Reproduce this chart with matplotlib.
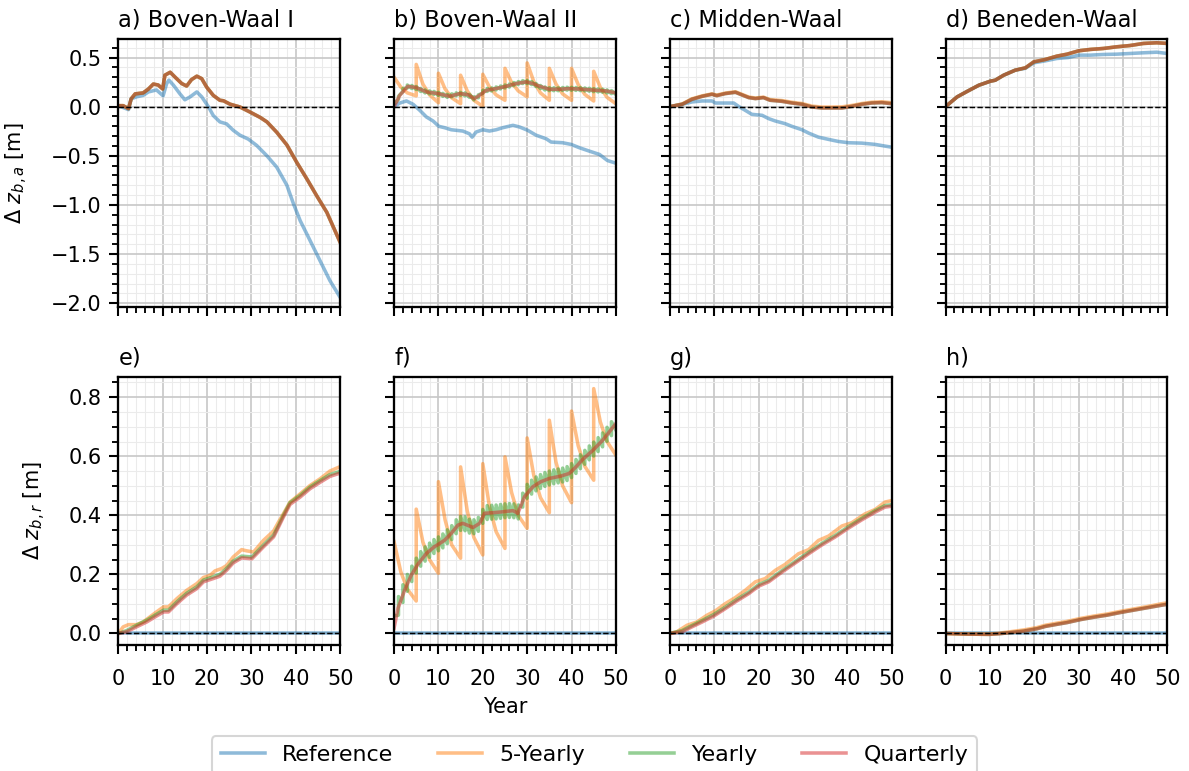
import matplotlib.pyplot as plt
from matplotlib.ticker import MultipleLocator
from matplotlib.lines import Line2D

# ---- data (year, dz) ----
# a) Boven-Waal I
a_ref = [(0, 0.01), (2.3, -0.03), (2.9, 0.08), (4.1, 0.10), (5.6, 0.115), (6.8, 0.15), (8.6, 0.17),
         (10.1, 0.11), (10.9, 0.235), (11.4, 0.27), (12.4, 0.22), (13.9, 0.13), (15.0, 0.07), (16.2, 0.10),
         (17.7, 0.15), (18.8, 0.10), (20.3, 0.0), (21.4, -0.09), (22.9, -0.155), (24.4, -0.175),
         (25.9, -0.24), (27.4, -0.29), (29.3, -0.33), (31.2, -0.395), (33.5, -0.50), (35.7, -0.615),
         (38.0, -0.80), (39.5, -0.99), (41.0, -1.16), (43.2, -1.36), (45.5, -1.57), (47.7, -1.77), (50, -1.94)]
a_mod = [(0, 0.01), (1.1, 0.01), (2.3, -0.02), (2.9, 0.08), (3.8, 0.13), (5.6, 0.14), (6.8, 0.18),
         (7.9, 0.23), (9.0, 0.22), (10.0, 0.18), (10.5, 0.32), (11.7, 0.35), (12.8, 0.30), (14.3, 0.235),
         (15.4, 0.21), (16.5, 0.275), (17.7, 0.31), (18.8, 0.285), (19.9, 0.20), (21.4, 0.115),
         (22.9, 0.065), (23.7, 0.06), (25.2, 0.025), (27.4, -0.003), (29.7, -0.055), (32.0, -0.11),
         (33.5, -0.155), (35.7, -0.26), (38.0, -0.39), (40.2, -0.565), (42.5, -0.735), (44.7, -0.905),
         (47.0, -1.075), (50, -1.38)]

# b) Boven-Waal II
b_ref = [(0, 0), (1.3, 0.037), (2.8, 0.058), (4.3, 0.024), (5.8, -0.037), (7.3, -0.105), (8.8, -0.146),
         (10.1, -0.20), (11.4, -0.214), (12.9, -0.235), (15.5, -0.248), (17.0, -0.276), (17.6, -0.31),
         (18.5, -0.258), (20.0, -0.235), (21.5, -0.248), (23.0, -0.235), (24.5, -0.214), (26.8, -0.19),
         (28.3, -0.207), (30.1, -0.24), (32.0, -0.29), (34.3, -0.327), (35.4, -0.36), (38.0, -0.367),
         (39.9, -0.384), (41.8, -0.418), (44.0, -0.452), (46.3, -0.486), (48.1, -0.548), (50, -0.575)]
b_5y = [(0, 0.30), (1.5, 0.20), (3, 0.14), (5, 0.11), (5, 0.43), (6.5, 0.23), (8, 0.12), (10, 0.04),
        (10, 0.34), (11.5, 0.18), (13, 0.09), (15, 0.03), (15, 0.32), (16.5, 0.16), (18, 0.065), (20, 0.003),
        (20, 0.33), (21.5, 0.20), (23, 0.12), (25, 0.065), (25, 0.39), (26.5, 0.245), (28, 0.16), (30, 0.10),
        (30, 0.445), (31.5, 0.255), (33, 0.14), (35, 0.065), (35, 0.39), (36.5, 0.23), (38, 0.13), (40, 0.065),
        (40, 0.39), (41.5, 0.225), (43, 0.125), (45, 0.058), (45, 0.36), (46.5, 0.195), (48, 0.095), (50, 0.03)]
b_yr_hi = [0.03, 0.105, 0.185, 0.22, 0.215, 0.205, 0.185, 0.17, 0.16, 0.155, 0.145, 0.135, 0.125, 0.13,
           0.14, 0.145, 0.14, 0.125, 0.10, 0.12, 0.165, 0.185, 0.19, 0.20, 0.21, 0.22, 0.23, 0.245, 0.255,
           0.265, 0.265, 0.255, 0.235, 0.215, 0.20, 0.193, 0.192, 0.192, 0.195, 0.198, 0.197, 0.195, 0.193,
           0.19, 0.187, 0.183, 0.18, 0.177, 0.17, 0.163]
b_yr_lo = [0.075, 0.155, 0.19, 0.185, 0.175, 0.155, 0.14, 0.13, 0.125, 0.115, 0.105, 0.095, 0.10, 0.11,
           0.115, 0.11, 0.095, 0.07, 0.09, 0.135, 0.155, 0.16, 0.17, 0.18, 0.19, 0.20, 0.215, 0.225, 0.235,
           0.235, 0.225, 0.205, 0.185, 0.17, 0.163, 0.162, 0.162, 0.165, 0.168, 0.167, 0.165, 0.163, 0.16,
           0.157, 0.153, 0.15, 0.147, 0.14, 0.133, 0.125]
b_q = [(0, 0), (1.3, 0.116), (3.1, 0.207), (5.0, 0.194), (7.3, 0.15), (9.9, 0.133), (12.5, 0.105),
       (14.8, 0.133), (16.6, 0.122), (18.1, 0.082), (19.3, 0.116), (20.8, 0.167), (23.0, 0.184),
       (25.3, 0.207), (27.5, 0.235), (29.8, 0.252), (31.3, 0.235), (32.8, 0.207), (35.0, 0.177),
       (37.3, 0.177), (39.5, 0.184), (42.5, 0.177), (45.5, 0.167), (47.8, 0.16), (50, 0.14)]

# c) Midden-Waal
c_ref = [(0, 0), (2.8, 0.024), (5.0, 0.048), (7.3, 0.058), (9.5, 0.058), (10.3, 0.037), (11.8, 0.037),
         (14.4, 0.037), (15.5, 0.003), (17.0, -0.037), (18.5, -0.078), (20.8, -0.088), (22.3, -0.122),
         (23.8, -0.146), (26.0, -0.173), (27.5, -0.20), (29.8, -0.235), (31.3, -0.269), (33.5, -0.31),
         (35.8, -0.333), (38.0, -0.354), (40.3, -0.367), (43.3, -0.371), (46.3, -0.384), (48.5, -0.401),
         (50, -0.412)]
c_5y = [(0, 0), (2.8, 0.028), (5.0, 0.08), (7.3, 0.11), (9.5, 0.13), (10.6, 0.118), (12.5, 0.138),
        (14.8, 0.152), (15.9, 0.132), (17.8, 0.098), (19.3, 0.088), (21.1, 0.097), (22.6, 0.072),
        (25.3, 0.062), (27.5, 0.045), (29.8, 0.032), (32.0, 0.006), (34.3, -0.004), (36.5, -0.004),
        (38.8, -0.002), (41.0, 0.012), (43.3, 0.032), (45.5, 0.045), (47.8, 0.05), (50, 0.04)]
c_mod = [(0, 0), (2.8, 0.024), (5.0, 0.075), (7.3, 0.105), (9.5, 0.126), (10.6, 0.112), (12.5, 0.133),
         (14.8, 0.146), (15.9, 0.126), (17.8, 0.092), (19.3, 0.082), (21.1, 0.092), (22.6, 0.065),
         (25.3, 0.054), (27.5, 0.037), (29.8, 0.024), (32.0, -0.003), (34.3, -0.014), (36.5, -0.014),
         (38.8, -0.014), (41.0, 0.003), (43.3, 0.024), (45.5, 0.037), (47.8, 0.041), (50, 0.03)]

# d) Beneden-Waal
d_ref = [(0, 0), (2.6, 0.099), (4.9, 0.156), (7.5, 0.218), (10.1, 0.259), (11.2, 0.269), (13.1, 0.32),
         (15.7, 0.371), (18.0, 0.39), (19.9, 0.446), (22.5, 0.466), (25.1, 0.49), (27.7, 0.50), (30.0, 0.524),
         (32.6, 0.524), (35.6, 0.531), (38.6, 0.534), (41.6, 0.541), (44.6, 0.548), (47.6, 0.554), (50, 0.541)]
d_mod = [(0, 0), (2.6, 0.099), (4.9, 0.156), (7.5, 0.218), (10.1, 0.259), (11.2, 0.269), (13.1, 0.32),
         (15.7, 0.371), (18.0, 0.395), (19.9, 0.456), (22.5, 0.48), (25.1, 0.514), (27.4, 0.534), (30.0, 0.568),
         (32.6, 0.582), (35.6, 0.592), (38.6, 0.609), (41.6, 0.622), (44.6, 0.643), (47.6, 0.65), (50, 0.643)]

# bottom row: reference stays at zero
r_ref = [(0, 0), (50, 0)]

# e)
e_5y = [(0, 0), (1.1, 0.0225), (2.3, 0.03), (4.1, 0.03), (5.6, 0.039), (7.1, 0.056), (8.6, 0.073),
        (10.2, 0.09), (11.3, 0.09), (13.2, 0.118), (15.4, 0.146), (17.7, 0.169), (19.2, 0.19), (20.7, 0.197),
        (21.8, 0.212), (23.3, 0.22), (24.4, 0.23), (25.9, 0.259), (27.8, 0.284), (28.9, 0.28), (30.5, 0.276),
        (32.7, 0.315), (35.0, 0.347), (36.1, 0.377), (37.2, 0.405), (38.7, 0.445), (41.0, 0.473),
        (43.2, 0.501), (45.5, 0.524), (47.7, 0.55), (50, 0.565)]
e_yr = [(0, 0), (1.9, 0.01), (4.1, 0.028), (6.4, 0.045), (8.6, 0.065), (10.2, 0.079), (11.3, 0.079),
        (13.2, 0.107), (15.4, 0.136), (17.7, 0.158), (19.2, 0.181), (21.4, 0.192), (22.9, 0.2), (24.4, 0.22),
        (25.9, 0.245), (27.8, 0.262), (30.1, 0.259), (32.7, 0.299), (35.0, 0.333), (36.1, 0.366),
        (37.2, 0.4), (38.7, 0.443), (41.0, 0.468), (43.2, 0.496), (45.5, 0.518), (47.7, 0.538), (50, 0.549)]
e_q = [(0, 0), (1.9, 0.006), (4.1, 0.0225), (6.4, 0.039), (8.6, 0.059), (10.2, 0.073), (11.3, 0.073),
       (13.2, 0.101), (15.4, 0.13), (17.7, 0.152), (19.2, 0.175), (21.4, 0.186), (22.9, 0.194), (24.4, 0.214),
       (25.9, 0.239), (27.8, 0.256), (30.1, 0.253), (32.7, 0.293), (35.0, 0.327), (36.1, 0.36), (37.2, 0.394),
       (38.7, 0.437), (41.0, 0.462), (43.2, 0.49), (45.5, 0.512), (47.7, 0.532), (50, 0.543)]

# f)
f_5y = [(0, 0.311), (1.5, 0.21), (3, 0.15), (5, 0.11), (5, 0.421), (6.5, 0.31), (8, 0.25), (10, 0.204),
        (10, 0.514), (11.5, 0.385), (13, 0.30), (15, 0.255), (15, 0.564), (16.5, 0.415), (18, 0.325),
        (20, 0.266), (20, 0.575), (21.5, 0.43), (23, 0.345), (25, 0.288), (25, 0.598), (26.5, 0.477),
        (28, 0.40), (30, 0.356), (30, 0.662), (31.5, 0.535), (33, 0.46), (35, 0.409), (35, 0.722),
        (36.5, 0.58), (38, 0.50), (40, 0.443), (40, 0.753), (41.5, 0.636), (43, 0.566), (45, 0.519),
        (45, 0.829), (46.5, 0.716), (48, 0.65), (50, 0.604)]
f_yr_hi = [0.06, 0.125, 0.165, 0.2, 0.228, 0.255, 0.277, 0.293, 0.306, 0.318, 0.327, 0.337, 0.351, 0.365,
           0.385, 0.396, 0.395, 0.387, 0.385, 0.393, 0.42, 0.433, 0.434, 0.435, 0.437, 0.439, 0.44, 0.439,
           0.435, 0.475, 0.505, 0.519, 0.53, 0.538, 0.545, 0.55, 0.554, 0.557, 0.56, 0.565, 0.575, 0.589,
           0.605, 0.62, 0.635, 0.648, 0.663, 0.679, 0.698, 0.717]
f_yr_lo = [0.062, 0.105, 0.143, 0.176, 0.205, 0.228, 0.245, 0.258, 0.271, 0.28, 0.29, 0.304, 0.318, 0.338,
           0.349, 0.348, 0.34, 0.338, 0.346, 0.373, 0.386, 0.387, 0.388, 0.39, 0.392, 0.393, 0.392, 0.388,
           0.428, 0.458, 0.472, 0.483, 0.491, 0.498, 0.503, 0.507, 0.51, 0.513, 0.518, 0.528, 0.542, 0.558,
           0.573, 0.588, 0.601, 0.616, 0.632, 0.651, 0.67, 0.689]
f_q = [(0, 0.018), (0.9, 0.086), (2.4, 0.147), (3.9, 0.198), (5.4, 0.235), (7.3, 0.271), (9.1, 0.294),
       (10.1, 0.303), (11.4, 0.316), (12.9, 0.339), (14.4, 0.367), (15.5, 0.373), (17.8, 0.359),
       (19.3, 0.373), (20.4, 0.407), (22.3, 0.409), (24.5, 0.412), (26.8, 0.416), (27.9, 0.407),
       (29.4, 0.463), (31.3, 0.497), (33.1, 0.514), (35.0, 0.525), (37.6, 0.533), (39.5, 0.542),
       (41.0, 0.564), (42.5, 0.589), (44.8, 0.62), (47.0, 0.654), (48.5, 0.682), (50, 0.711)]

# g)
g_5y = [(0, 0), (1.6, 0.006), (3.9, 0.028), (6.1, 0.039), (8.4, 0.062), (10.3, 0.077), (12.5, 0.101),
        (14.8, 0.122), (17.0, 0.146), (19.3, 0.175), (21.5, 0.186), (23.8, 0.214), (26.0, 0.234),
        (29.0, 0.27), (31.3, 0.284), (33.5, 0.315), (35.8, 0.33), (38.8, 0.364), (41.0, 0.375),
        (44.0, 0.405), (46.3, 0.42), (48.5, 0.445), (50, 0.45)]
g_yr = [(0, 0), (2.8, 0.01), (5.0, 0.027), (7.3, 0.044), (9.9, 0.064), (12.5, 0.089), (15.1, 0.115),
        (17.8, 0.14), (20.0, 0.165), (22.3, 0.18), (25.3, 0.213), (28.3, 0.244), (31.3, 0.275), (34.3, 0.305),
        (37.3, 0.332), (40.3, 0.362), (43.3, 0.39), (46.3, 0.416), (48.5, 0.433), (50, 0.436)]
g_q = [(0, 0), (2.8, 0.006), (5.0, 0.0225), (7.3, 0.039), (9.9, 0.059), (12.5, 0.084), (15.1, 0.11),
       (17.8, 0.135), (20.0, 0.16), (22.3, 0.175), (25.3, 0.208), (28.3, 0.239), (31.3, 0.27), (34.3, 0.30),
       (37.3, 0.327), (40.3, 0.357), (43.3, 0.385), (46.3, 0.411), (48.5, 0.428), (50, 0.431)]

# h)
h_5y = [(0, 0), (4.9, -0.002), (9.7, -0.002), (12.0, 0.001), (14.6, 0.006), (17.6, 0.012), (20.6, 0.02),
        (22.5, 0.028), (25.1, 0.035), (27.4, 0.041), (30.4, 0.051), (33.4, 0.059), (36.4, 0.066),
        (39.4, 0.075), (42.4, 0.083), (45.4, 0.091), (48.4, 0.1), (50, 0.104)]
h_q = [(0, 0), (4.9, -0.002), (9.7, -0.003), (12.0, -0.001), (14.6, 0.003), (17.6, 0.008), (20.6, 0.016),
       (22.5, 0.024), (25.1, 0.031), (27.4, 0.037), (30.4, 0.047), (33.4, 0.055), (36.4, 0.062),
       (39.4, 0.071), (42.4, 0.079), (45.4, 0.087), (48.4, 0.095), (50, 0.099)]

titles = ["a) Boven-Waal I", "b) Boven-Waal II", "c) Midden-Waal", "d) Beneden-Waal",
          "e)", "f)", "g)", "h)"]
labels = ["Reference", "5-Yearly", "Yearly", "Quarterly"]
colors = ["tab:blue", "tab:orange", "tab:green", "tab:red"]


def yearly_saw(hi, lo):
    # yearly nourishment: jump up at start of the year, decay until the next one
    pts = []
    for k in range(len(hi)):
        pts += [(k, hi[k]), (k + 1, lo[k])]
    return pts


panels = [
    [a_ref, a_mod, a_mod, a_mod],
    [b_ref, b_5y, yearly_saw(b_yr_hi, b_yr_lo), b_q],
    [c_ref, c_5y, c_mod, c_mod],
    [d_ref, d_mod, d_mod, d_mod],
    [r_ref, e_5y, e_yr, e_q],
    [r_ref, f_5y, yearly_saw(f_yr_hi, f_yr_lo), f_q],
    [r_ref, g_5y, g_yr, g_q],
    [r_ref, h_5y, h_q, h_q],
]

plt.rcParams['font.size'] = 10
fig, axes = plt.subplots(2, 4, figsize=(1189 / 150, 771 / 150), dpi=150, sharex=True, sharey='row')
fig.subplots_adjust(left=0.0995, right=0.9818, top=0.949, bottom=0.1634, wspace=0.243, hspace=0.261)

LW = 1.7
for i, ax in enumerate(axes.flat):
    for series, col in zip(panels[i], colors):
        t = [p[0] for p in series]
        z = [p[1] for p in series]
        ax.plot(t, z, color=col, alpha=0.5, lw=LW)
    ax.axhline(0, color="k", ls="--", lw=0.7, zorder=5)
    ax.set_title(titles[i], loc="left", fontsize=10.8)
    ax.set_xlim(0, 50)
    ax.xaxis.set_major_locator(MultipleLocator(10))
    ax.xaxis.set_minor_locator(MultipleLocator(2))
    if i < 4:
        ax.yaxis.set_major_locator(MultipleLocator(0.5))
        ax.yaxis.set_minor_locator(MultipleLocator(0.1))
    else:
        ax.yaxis.set_major_locator(MultipleLocator(0.2))
        ax.yaxis.set_minor_locator(MultipleLocator(0.05))
    ax.grid(which="major", color="0.78", lw=0.8)
    ax.grid(which="minor", color="0.92", lw=0.5)
    ax.set_axisbelow(True)
    ax.tick_params(which="major", length=4.5, width=1.0)
    ax.tick_params(which="minor", length=2.8, width=0.9)
    ax.tick_params(axis="x", which="major", pad=7)
    for s in ax.spines.values():
        s.set_linewidth(1.1)

axes[0, 0].set_ylim(-2.04, 0.685)
axes[1, 0].set_ylim(-0.039, 0.868)
axes[0, 0].set_ylabel(r"$\Delta$ $z_{b,a}$ [m]", labelpad=10)
axes[1, 0].set_ylabel(r"$\Delta$ $z_{b,r}$ [m]", labelpad=10)
axes[1, 1].set_xlabel("Year")

handles = [Line2D([], [], color=c, alpha=0.5, lw=LW) for c in colors]
fig.legend(handles, labels, loc="upper center", ncol=4, bbox_to_anchor=(0.5, 0.045),
           frameon=True, fontsize=10.6, borderaxespad=0)

fig.savefig("out.png", dpi=150)
